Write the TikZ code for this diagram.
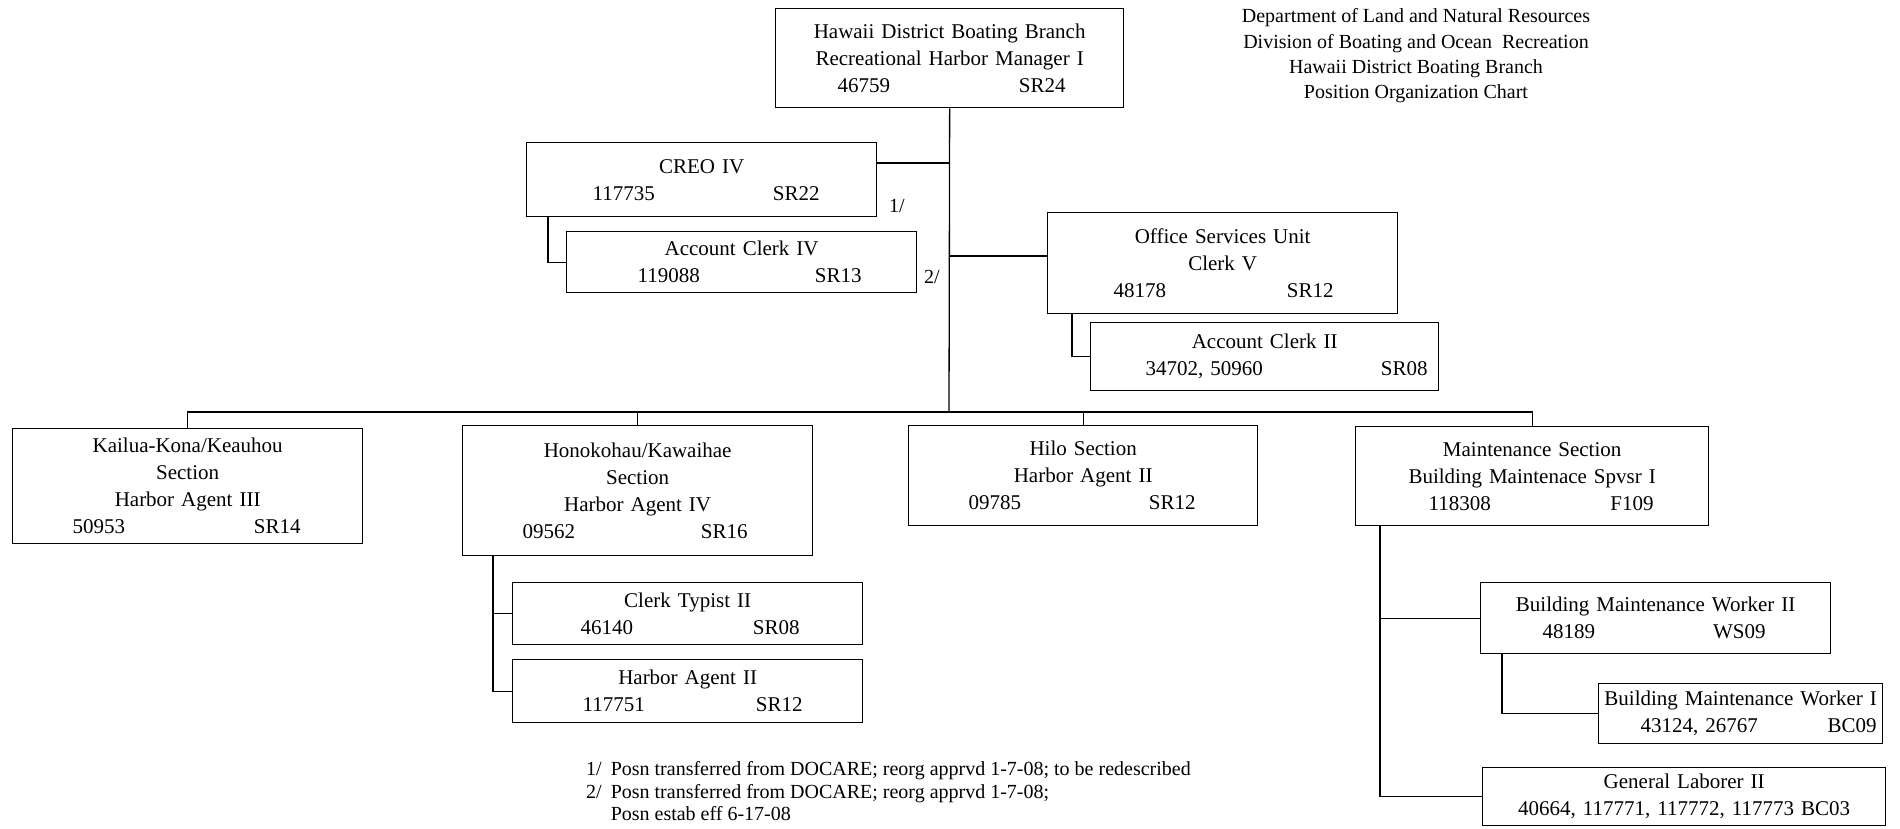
\documentclass[tikz,border=0pt]{standalone}
\usepackage{fontspec}
\setmainfont{Liberation Serif}
\newcommand\nrow[4]{\makebox[\linewidth]{\hspace*{#1pt}#3\hfill#4\hspace*{#2pt}}}
\begin{document}
\begin{tikzpicture}[x=1pt,y=-1pt,
  box/.style={draw, line width=1.3pt, inner sep=0pt, align=center, anchor=north west,
    font=\fontsize{21}{27}\selectfont},
  conn/.style={line width=1.3pt},
  hdrtext/.style={align=center, inner sep=0pt, font=\fontsize{20}{25.3}\selectfont},
  notetext/.style={align=left, inner sep=0pt, anchor=north west, font=\fontsize{20}{22.5}\selectfont},
  lbl/.style={inner sep=0pt, font=\fontsize{20}{22}\selectfont}]
\useasboundingbox[fill=white] (0,0) rectangle (1900,828);

% boxes
\node[box, text width=348pt, minimum height=99pt] (top) at (775,8)
  {Hawaii District Boating Branch\\Recreational Harbor Manager I\\\nrow{62}{58}{46759}{SR24}};
\node[box, text width=350pt, minimum height=74pt] (creo) at (526,142)
  {CREO IV\\\nrow{66}{57}{117735}{SR22}};
\node[box, text width=350pt, minimum height=61pt] (acIV) at (566,231)
  {Account Clerk IV\\\nrow{71}{55}{119088}{SR13}};
\node[box, text width=350pt, minimum height=101pt] (osu) at (1047,212)
  {Office Services Unit\\Clerk V\\\nrow{66}{64}{48178}{SR12}};
\node[box, text width=348pt, minimum height=68pt] (acII) at (1090,322)
  {Account Clerk II\\\nrow{55}{11}{34702, 50960}{SR08}};

\node[box, text width=350pt, minimum height=115pt] (kailua) at (12,428)
  {Kailua-Kona/Keauhou\\Section\\Harbor Agent III\\\nrow{60}{62}{50953}{SR14}};
\node[box, text width=350pt, minimum height=130pt] (hono) at (462,425)
  {Honokohau/Kawaihae\\Section\\Harbor Agent IV\\\nrow{60}{65}{09562}{SR16}};
\node[box, text width=349pt, minimum height=100pt] (hilo) at (908,425)
  {Hilo Section\\Harbor Agent II\\\nrow{60}{62}{09785}{SR12}};
\node[box, text width=353pt, minimum height=99pt] (maint) at (1355,426)
  {Maintenance Section\\Building Maintenace Spvsr I\\\nrow{73}{55}{118308}{F109}};

\node[box, text width=350pt, minimum height=62pt] (ct) at (512,582)
  {Clerk Typist II\\\nrow{68}{63}{46140}{SR08}};
\node[box, text width=350pt, minimum height=63pt] (ha2) at (512,659)
  {Harbor Agent II\\\nrow{70}{60}{117751}{SR12}};

\node[box, text width=350pt, minimum height=71pt] (bmw2) at (1480,582)
  {Building Maintenance Worker II\\\nrow{62}{65}{48189}{WS09}};
\node[box, text width=284pt, minimum height=60pt] (bmw1) at (1598,683)
  {Building Maintenance Worker I\\\nrow{42}{6}{43124, 26767}{BC09}};
\node[box, text width=403pt, minimum height=58pt] (gl) at (1482,767)
  {General Laborer II\\40664, 117771, 117772, 117773 BC03};

% header and notes
\node[hdrtext] (hdr) at (1416,56)
  {Department of Land and Natural Resources\\Division of Boating and Ocean\ \ Recreation\\Hawaii District Boating Branch\\Position Organization Chart};
\node[notetext] (notes) at (586,760)
  {\begin{tabular}{@{}l@{\hspace{9pt}}l@{}}
   1/ & Posn transferred from DOCARE; reorg apprvd 1-7-08; to be redescribed\\
   2/ & Posn transferred from DOCARE; reorg apprvd 1-7-08;\\
      & Posn estab eff 6-17-08
   \end{tabular}};
\node[lbl] (n1) at (897,206) {1/};
\node[lbl] (n2) at (932,277) {2/};

% connectors
\coordinate (bar) at (949,412);
\coordinate (cy) at (0,163);
\coordinate (oy) at (0,256);
\draw[conn] (top.south) -- (bar);
\draw[conn] (kailua.north) |- (bar) -| (maint.north);
\draw[conn] (hono.north) -- (hono.north |- bar);
\draw[conn] (hilo.north) -- (hilo.north |- bar);
\draw[conn] (creo.east |- cy) -- (bar |- cy);
\draw[conn] (bar |- oy) -- (osu.west |- oy);
\draw[conn] ([xshift=22pt]creo.south west) |- (acIV.west);
\draw[conn] ([xshift=25pt]osu.south west) |- (acII.west);
\draw[conn] ([xshift=31pt]hono.south west) |- (ct.west);
\draw[conn] ([xshift=31pt]hono.south west) |- (ha2.west);
\draw[conn] ([xshift=25pt]maint.south west) |- (bmw2.west);
\draw[conn] ([xshift=25pt]maint.south west) |- (gl.west);
\draw[conn] ([xshift=22pt]bmw2.south west) |- (bmw1.west);
\end{tikzpicture}
\end{document}
